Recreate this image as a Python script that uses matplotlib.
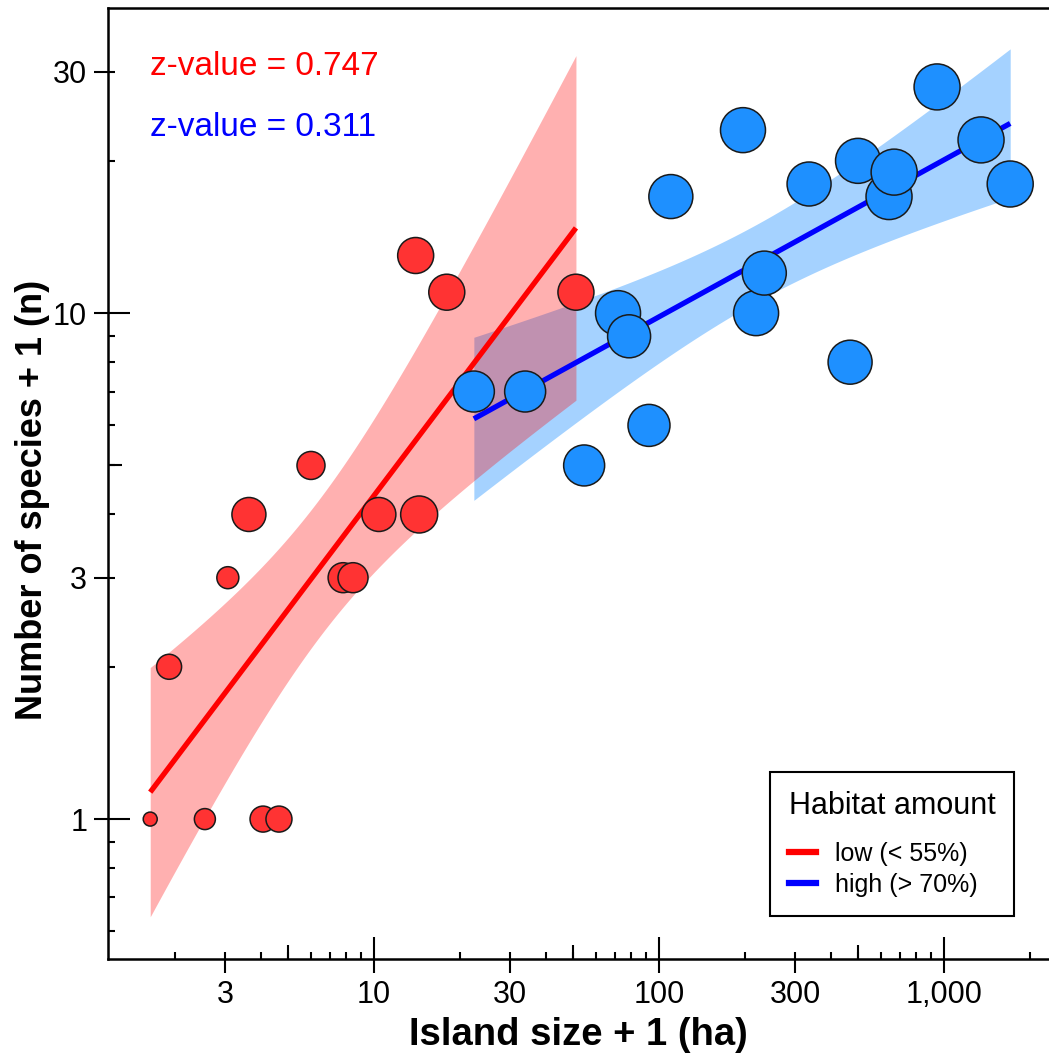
import matplotlib
matplotlib.use('Agg')
import matplotlib.pyplot as plt
import numpy as np
from matplotlib.ticker import FixedLocator, FuncFormatter, NullFormatter
from matplotlib.lines import Line2D

plt.rcParams['font.family'] = ['Liberation Sans', 'DejaVu Sans']

# island size + 1 (ha), species + 1, bubble radius (px) -- low habitat amount
low_size = [1.64, 1.91, 2.55, 3.07, 3.64, 4.08, 4.64, 6.01, 7.79, 8.44, 10.4, 14.0, 14.4, 18.0, 51.1]
low_species = [1, 2, 1, 3, 4, 1, 1, 5, 3, 3, 4, 13, 4, 11, 11]
low_radius = [7, 12.5, 10.5, 11, 17, 13, 13, 14, 15, 15, 17, 18, 18.5, 18, 18]

# high habitat amount
high_size = [22.4, 33.9, 54.6, 71.8, 78.5, 92.2, 110, 197, 219, 234, 336, 468, 499, 641, 668, 945, 1348, 1706]
high_species = [7, 7, 5, 10, 9, 6, 17, 23, 10, 12, 18, 8, 20, 17, 19, 28, 22, 18]
high_radius = [20.5, 20.5, 20.5, 22.5, 21.5, 21, 22, 22.5, 22.5, 22, 22, 22, 22.5, 23, 23, 23, 23, 23]

z_labels = ['z-value = 0.747', 'z-value = 0.311']
legend_labels = ['low (< 55%)', 'high (> 70%)']

T95 = {15: 2.160, 18: 2.120}  # two-sided 95% t quantiles for n-2 df


def fit_band(x, y):
    lx = np.log10(x)
    ly = np.log10(y)
    n = len(lx)
    b1, b0 = np.polyfit(lx, ly, 1)
    resid = ly - (b0 + b1 * lx)
    s = np.sqrt(np.sum(resid ** 2) / (n - 2))
    sxx = np.sum((lx - lx.mean()) ** 2)
    gx = np.linspace(lx.min(), lx.max(), 200)
    gy = b0 + b1 * gx
    se = s * np.sqrt(1.0 / n + (gx - lx.mean()) ** 2 / sxx)
    hw = T95[n] * se
    return 10 ** gx, 10 ** gy, 10 ** (gy - hw), 10 ** (gy + hw)


def area(r):
    return (2 * np.asarray(r) * 0.72) ** 2


fig = plt.figure(figsize=(10.49, 10.57), dpi=100)
ax = fig.add_axes([108 / 1049, 98 / 1057, 941 / 1049, 951 / 1057])
ax.set_xscale('log')
ax.set_yscale('log')
ax.set_xlim(1.166, 2334)
ax.set_ylim(0.529, 40.1)

gxl, fyl, lol, hil = fit_band(low_size, low_species)
gxh, fyh, loh, hih = fit_band(high_size, high_species)

ax.fill_between(gxh, loh, hih, color='#1E90FF', alpha=0.4, lw=0, zorder=1)
ax.fill_between(gxl, lol, hil, color='#FF0000', alpha=0.31, lw=0, zorder=2)
ax.plot(gxl, fyl, color='#FF0000', lw=3.8, solid_capstyle='butt', zorder=3)
ax.plot(gxh, fyh, color='#0000FF', lw=3.8, solid_capstyle='butt', zorder=3)

ax.scatter(low_size, low_species, s=area(low_radius), c='#FF3333',
           edgecolors='#1a1a1a', linewidths=1.1, zorder=4)
ax.scatter(high_size, high_species, s=area(high_radius), c='#1E90FF',
           edgecolors='#1a1a1a', linewidths=1.1, zorder=4)

ax.text(0.0446, 0.939, z_labels[0], color='#FF0000', fontsize=24,
        va='center', ha='left', transform=ax.transAxes)
ax.text(0.0446, 0.874, z_labels[1], color='#0000FF', fontsize=24,
        va='center', ha='left', transform=ax.transAxes)

# ticks
fmt = FuncFormatter(lambda v, p: '{:,.0f}'.format(v))
ax.xaxis.set_major_locator(FixedLocator([1, 3, 10, 30, 100, 300, 1000]))
ax.xaxis.set_major_formatter(fmt)
ax.xaxis.set_minor_locator(FixedLocator([2, 3, 4, 5, 6, 7, 8, 9, 20, 30, 40, 50, 60, 70, 80, 90,
                                         200, 300, 400, 500, 600, 700, 800, 900, 2000]))
ax.xaxis.set_minor_formatter(NullFormatter())
ax.xaxis.remove_overlapping_locs = False
ax.yaxis.set_major_locator(FixedLocator([1, 3, 10, 30]))
ax.yaxis.set_major_formatter(fmt)
ax.yaxis.set_minor_locator(FixedLocator([0.6, 0.7, 0.8, 0.9, 2, 3, 4, 5, 6, 7, 8, 9, 20, 30]))
ax.yaxis.set_minor_formatter(NullFormatter())
ax.yaxis.remove_overlapping_locs = False
ax.tick_params(which='major', direction='out', length=10, width=1.5, labelsize=22, pad=5)
ax.tick_params(which='minor', direction='in', length=5, width=1.5)

secx = ax.secondary_xaxis('bottom')
secx.xaxis.set_major_locator(FixedLocator([10, 100, 1000]))
secx.xaxis.set_minor_locator(FixedLocator([5, 50, 500]))
secx.tick_params(which='major', direction='in', length=16, width=1.5, labelbottom=False)
secx.tick_params(which='minor', direction='in', length=10, width=1.5, labelbottom=False)
secx.spines['bottom'].set_visible(False)

secy = ax.secondary_yaxis('left')
secy.yaxis.set_major_locator(FixedLocator([1, 10]))
secy.yaxis.set_minor_locator(FixedLocator([5]))
secy.tick_params(which='major', direction='in', length=16, width=1.5, labelleft=False)
secy.tick_params(which='minor', direction='in', length=10, width=1.5, labelleft=False)
secy.spines['left'].set_visible(False)

for sp in ['left', 'bottom', 'top']:
    ax.spines[sp].set_linewidth(1.8)
ax.spines['right'].set_visible(False)

ax.set_xlabel('Island size + 1 (ha)', fontsize=27.5, fontweight='bold')
ax.set_ylabel('Number of species + 1 (n)', fontsize=26, fontweight='bold')
ax.xaxis.set_label_coords(0.5, -0.061)
ax.yaxis.set_label_coords(-0.062, 0.483)

handles = [Line2D([], [], color='#FF0000', lw=4.5), Line2D([], [], color='#0000FF', lw=4.5)]
leg = ax.legend(handles, legend_labels, title='Habitat amount',
                loc='upper left', bbox_to_anchor=((770 - 108) / 941, (959 - 772) / 951),
                borderaxespad=0, fontsize=18, title_fontsize=22, fancybox=False,
                framealpha=1, edgecolor='black', handlelength=1.1, handletextpad=0.75,
                borderpad=0.75, labelspacing=0.3)
leg.get_frame().set_linewidth(1.5)
leg._legend_box.align = 'left'
leg._legend_box.sep = 15

plt.savefig('out.png', dpi=100)
